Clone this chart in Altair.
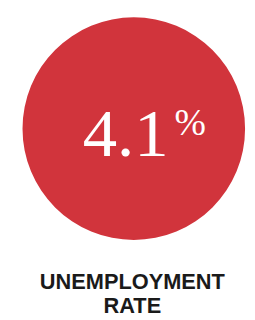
import altair as alt
import pandas as pd

values = ["4.1"]
suffix = ["%"]
labels = [["UNEMPLOYMENT", "RATE"]]

df = pd.DataFrame({"value": values, "suffix": suffix, "label": labels})
base = alt.Chart(df)

RED = "#D1343C"
DX, DY = 4, 4

circle = base.mark_point(filled=True, shape="circle", color=RED, opacity=1, size=52900).encode(
    x=alt.value(126 + DX), y=alt.value(115.5 + DY)
)
num = base.mark_text(font="Liberation Serif", fontSize=71, color="white", align="right", baseline="alphabetic").encode(
    x=alt.value(162 + DX), y=alt.value(143.5 + DY), text="value:N"
)
pct = base.mark_text(font="Liberation Serif", fontSize=39, color="white", align="left", baseline="alphabetic").encode(
    x=alt.value(168 + DX), y=alt.value(122.5 + DY), text="suffix:N"
)
lab = base.mark_text(font="Liberation Sans", fontSize=22.5, fontWeight="bold", color="#1a1a1a", align="center",
                     baseline="alphabetic", lineHeight=25).encode(
    x=alt.value(128.5), y=alt.value(285), text="label"
)

chart = alt.layer(circle, num, pct, lab).properties(
    width=247, height=312, padding=0, autosize="none"
).configure_view(stroke=None)

chart.save("out.html", embed_options={"renderer": "svg", "actions": False})
